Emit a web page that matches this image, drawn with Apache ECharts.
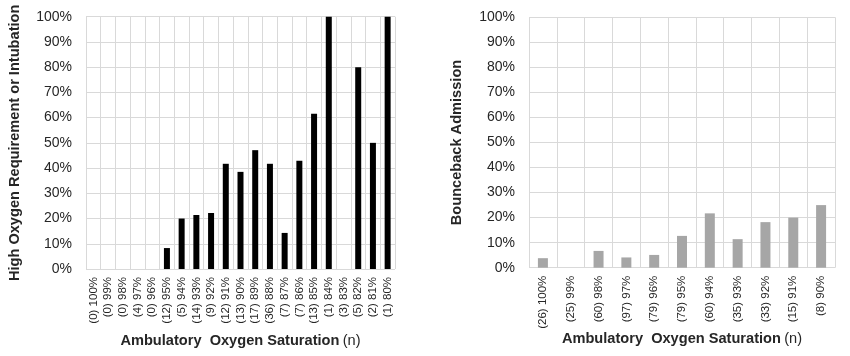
<!DOCTYPE html>
<html>
<head>
<meta charset="utf-8">
<script src="https://cdn.jsdelivr.net/npm/echarts@6/dist/echarts.min.js"></script>
<style>html,body{margin:0;padding:0;background:#fff;}#c{width:850px;height:356px;}</style>
</head>
<body>
<div id="c"></div>
<script>
const leftCategories = ['(0) 100%','(0) 99%','(0) 98%','(4) 97%','(0) 96%','(12) 95%','(5) 94%','(14) 93%','(9) 92%','(12) 91%','(13) 90%','(17) 89%','(36) 88%','(7) 87%','(7) 86%','(13) 85%','(1) 84%','(3) 83%','(5) 82%','(2) 81%','(1) 80%'];
const leftValues = [0,0,0,0,0,8.3,20,21.4,22.2,41.7,38.5,47.1,41.7,14.3,42.9,61.5,100,0,80,50,100];
const rightCategories = ['(26) 100%','(25) 99%','(60) 98%','(97) 97%','(79) 96%','(79) 95%','(60) 94%','(35) 93%','(33) 92%','(15) 91%','(8) 90%'];
const rightValues = [3.8,0,6.7,4.1,5.1,12.7,21.7,11.4,18.2,20,25];
const yTicks = {min:0, max:100, interval:10};

const font = 'Arial, "Liberation Sans", sans-serif';
const gridColor = '#d9d9d9';
const textColor = '#262626';

function xAxis(gridIndex, cats){
  return {
    type:'category', gridIndex, data:cats,
    axisLine:{show:false}, axisTick:{show:false},
    axisLabel:{rotate:90, interval:0, fontSize:11.5, fontFamily:font, color:textColor, margin:8},
    splitLine:{show:true, interval:0, lineStyle:{color:gridColor, width:1}},
    name:'{b|Ambulatory  Oxygen Saturation} {n|(n)}',
    nameLocation:'middle', nameGap:64, nameMoveOverlap:false,
    nameTextStyle:{rich:{
      b:{fontSize:14.6, fontWeight:'bold', fontFamily:font, color:textColor},
      n:{fontSize:14.6, fontFamily:font, color:textColor}
    }}
  };
}
function yAxis(gridIndex, title, gap){
  return {
    type:'value', gridIndex, min:yTicks.min, max:yTicks.max, interval:yTicks.interval,
    axisLine:{show:false}, axisTick:{show:false},
    axisLabel:{formatter:'{value}%', fontSize:14, fontFamily:font, color:textColor, margin:14},
    splitLine:{show:true, lineStyle:{color:gridColor, width:1}},
    name:title, nameLocation:'middle', nameGap:gap, nameRotate:90, nameMoveOverlap:false,
    nameTextStyle:{fontSize:14.6, fontWeight:'bold', fontFamily:font, color:textColor}
  };
}

const chart = echarts.init(document.getElementById('c'), null, {renderer:'canvas'});
chart.setOption({
  animation:false,
  backgroundColor:'#fff',
  grid:[
    {left:86, top:16.7, width:309, height:252.3, show:false, containLabel:false, outerBoundsMode:'none'},
    {left:529, top:17.3, width:306, height:250.4, show:false, containLabel:false, outerBoundsMode:'none'}
  ],
  xAxis:[xAxis(0,leftCategories), xAxis(1,rightCategories)],
  yAxis:[yAxis(0,'High Oxygen Requirement or Intubation',64), yAxis(1,'Bounceback Admission',65)],
  series:[
    {type:'bar', xAxisIndex:0, yAxisIndex:0, data:leftValues, barWidth:6, itemStyle:{color:'#000'}},
    {type:'bar', xAxisIndex:1, yAxisIndex:1, data:rightValues, barWidth:10, itemStyle:{color:'#a6a6a6'}}
  ]
});
</script>
</body>
</html>
